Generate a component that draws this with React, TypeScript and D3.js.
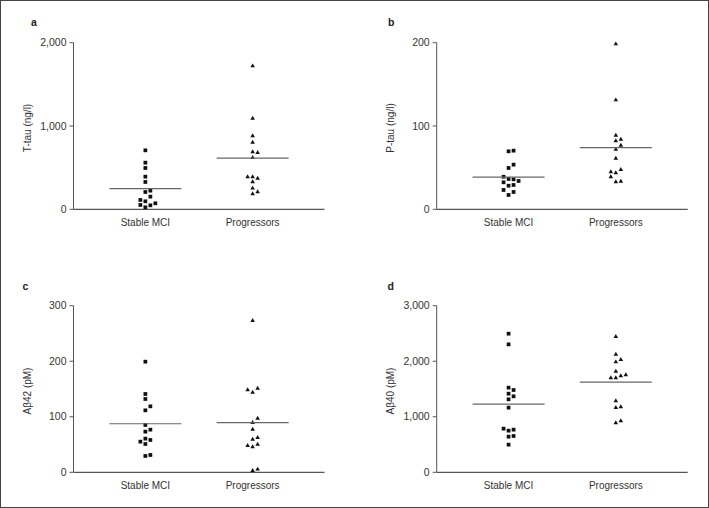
import React from "react";
import * as d3 from "d3";

// ---- data ----
const categories = ["Stable MCI", "Progressors"];
const panelLetters = ["a", "b", "c", "d"];
const yTitles = ["T-tau (ng/l)", "P-tau (ng/l)", "Aβ42 (pM)", "Aβ40 (pM)"];
const yTickValues = [
  [0, 1000, 2000],
  [0, 100, 200],
  [0, 100, 200, 300],
  [0, 1000, 2000, 3000],
];

const tTauStable = [708, 560, 496, 392, 328, 208, 96, 24, 224, 152, 112, 48, 52, 72];
const tTauProgressors = [1720, 1092, 880, 804, 688, 620, 328, 252, 184, 680, 208, 372, 388, 388];
const pTauStable = [69.6, 49.6, 36.4, 28.3, 17.2, 70.4, 36, 20.8, 39.1, 32.4, 29.2, 34, 23.2, 53.6];
const pTauProgressors = [198.4, 131.2, 88.8, 82, 72, 61.2, 43.6, 32.8, 84, 47.6, 44.8, 33.6, 38.8, 76.8];
const ab42Stable = [199.2, 132, 111.6, 85.2, 73.2, 60.6, 51, 29.4, 141, 118.8, 76.8, 58.2, 55.2, 31.2];
const ab42Progressors = [273, 144, 89.4, 77.4, 59.4, 45.6, 3, 151.2, 148.2, 97.2, 62.4, 50.4, 48, 5.4];
const ab40Stable = [2496, 2304, 1524, 1416, 1314, 1164, 750, 642, 498, 1368, 1482, 768, 786, 654];
const ab40Progressors = [2442, 2124, 1986, 1818, 1698, 1284, 1164, 888, 1734, 1698, 924, 2028, 1752, 1176];

const panelSeries = [
  [tTauStable, tTauProgressors],
  [pTauStable, pTauProgressors],
  [ab42Stable, ab42Progressors],
  [ab40Stable, ab40Progressors],
];

// ---- layout ----
const W = 709;
const H = 508;
const lefts = [73.5, 436.7];
const tops = [42.7, 305.7];
const plotW = 251;
const plotH = 166.6;
const laneStep = 5;
const collide = 4.8;
const laneOrder = [0, 1, -1, 2, -2, 3, -3, 4, -4];
const FONT = "'Liberation Sans', Arial, sans-serif";
const letterPos = [
  [31, 26],
  [388, 26],
  [22.5, 290],
  [387.5, 289.5],
];

function dodge(values: number[], y: (v: number) => number) {
  const lanes = new Map<number, number[]>();
  return values.map((v) => {
    const py = y(v);
    for (const l of laneOrder) {
      const arr = lanes.get(l) || [];
      if (!arr.some((q) => Math.abs(q - py) < collide)) {
        arr.push(py);
        lanes.set(l, arr);
        return { lane: l, py, v };
      }
    }
    return { lane: 0, py, v };
  });
}

const squarePath = d3.symbol().type(d3.symbolSquare).size(14)() as string;
const trianglePath = d3.symbol().type(d3.symbolTriangle).size(9)() as string;

function Panel({ idx }: { idx: number }) {
  const col = idx % 2;
  const row = Math.floor(idx / 2);
  const left = lefts[col];
  const top = tops[row];
  const bottom = top + plotH;
  const right = left + plotW;
  const ticks = yTickValues[idx];
  const y = d3.scaleLinear().domain([0, ticks[ticks.length - 1]]).range([bottom, top]);
  const x = d3.scalePoint().domain(categories).range([left, right]).padding(0.67);
  const fmt = d3.format(",");
  const series = panelSeries[idx];
  const ink = "#555";
  return (
    <g>
      <text
        x={letterPos[idx][0]}
        y={letterPos[idx][1]}
        fontFamily={FONT}
        fontWeight="bold"
        fontSize={10.5}
        fill="#222"
      >
        {panelLetters[idx]}
      </text>
      <line x1={left} x2={left} y1={top} y2={bottom} stroke={ink} strokeWidth={1} />
      <line x1={left} x2={right} y1={bottom} y2={bottom} stroke={ink} strokeWidth={1.2} />
      {ticks.map((t) => (
        <g key={t}>
          <line x1={left - 4} x2={left} y1={y(t)} y2={y(t)} stroke={ink} strokeWidth={1} />
          <text
            x={left - 7}
            y={y(t)}
            dy="0.35em"
            textAnchor="end"
            fontFamily={FONT}
            fontSize={10.5}
            fill="#333"
          >
            {fmt(t)}
          </text>
        </g>
      ))}
      <text
        transform={`translate(${left - 43},${(top + bottom) / 2 + 2}) rotate(-90)`}
        textAnchor="middle"
        fontFamily={FONT}
        fontSize={10}
        fill="#333"
      >
        {yTitles[idx]}
      </text>
      {categories.map((c) => (
        <text
          key={c}
          x={x(c)}
          y={bottom + 16.4}
          textAnchor="middle"
          fontFamily={FONT}
          fontSize={10}
          fill="#333"
        >
          {c}
        </text>
      ))}
      {series.map((vals, si) => {
        const cx = x(categories[si]) as number;
        const pts = dodge(vals, y);
        const m = d3.mean(vals) as number;
        return (
          <g key={si}>
            {pts.map((p, i) => (
              <path
                key={i}
                d={si === 0 ? squarePath : trianglePath}
                transform={`translate(${cx + p.lane * laneStep},${p.py})`}
                fill="#111"
              />
            ))}
            <line x1={cx - 36} x2={cx + 36} y1={y(m)} y2={y(m)} stroke="#666" strokeWidth={1.2} />
          </g>
        );
      })}
    </g>
  );
}

export default function App() {
  return (
    <svg
      width={W}
      height={H}
      style={{ position: "absolute", left: 0, top: 0, background: "#fff" }}
    >
      <rect x={0.5} y={0.5} width={W - 1} height={H - 1} fill="#fff" stroke="#444" strokeWidth={1} />
      {[0, 1, 2, 3].map((i) => (
        <Panel key={i} idx={i} />
      ))}
    </svg>
  );
}
